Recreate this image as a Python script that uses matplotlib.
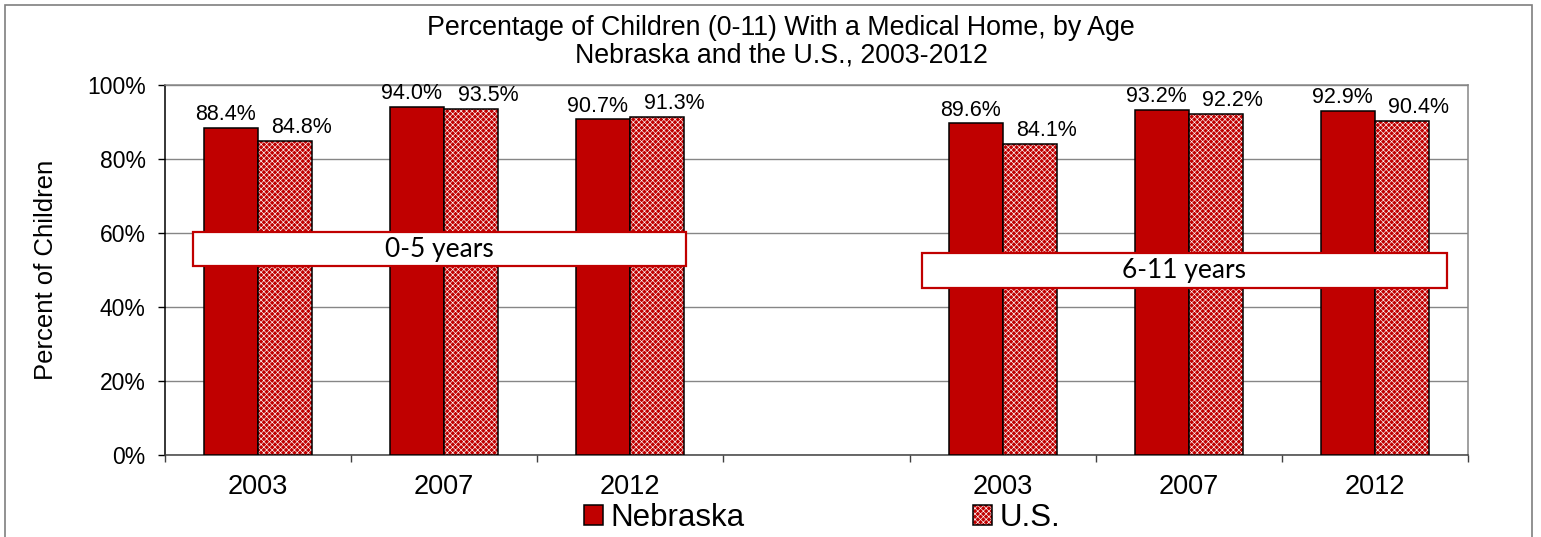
import numpy as np
import matplotlib
matplotlib.use('Agg')
import matplotlib.pyplot as plt
from matplotlib.patches import Patch, Rectangle

plt.rcParams['font.family'] = ['Liberation Sans', 'DejaVu Sans']
plt.rcParams['hatch.linewidth'] = 0.45

### data ###
years = ['2003', '2007', '2012', '', '2003', '2007', '2012']
nebraska = [88.4, 94.0, 90.7, np.nan, 89.6, 93.2, 92.9]
us = [84.8, 93.5, 91.3, np.nan, 84.1, 92.2, 90.4]
age_groups = ['0-5 years', '6-11 years']
yticks = [0, 20, 40, 60, 80, 100]

red = '#c00000'
grid_gray = '#868686'

fig = plt.figure(figsize=(15.41, 5.37), dpi=100)
ax = fig.add_axes([165/1541, 82/537, 1303/1541, 370/537])

x = np.arange(len(years))
w = 0.29

### bars ###
ax.bar(x - w/2, nebraska, w, color=red, edgecolor='black', linewidth=1.1, zorder=3)
ax.bar(x + w/2, us, w, color=red, edgecolor='white', hatch='xxxxxx', linewidth=0, zorder=3)
ax.bar(x + w/2, us, w, color='none', edgecolor='black', linewidth=1.1, zorder=4)

### value labels (excel nudges them apart a bit) ###
for i in range(len(years)):
    if np.isnan(nebraska[i]):
        continue
    ax.annotate('%.1f%%' % nebraska[i], (x[i] - w/2, nebraska[i]), xytext=(-4, 2),
                textcoords='offset points', ha='center', va='bottom', fontsize=15.5, zorder=6)
    ax.annotate('%.1f%%' % us[i], (x[i] + w/2, us[i]), xytext=(12, 2),
                textcoords='offset points', ha='center', va='bottom', fontsize=15.5, zorder=6)

### axes ###
ax.set_xlim(-0.5, len(years) - 0.5)
ax.set_ylim(0, 100)
ax.set_yticks(yticks)
ax.set_yticklabels(['%d%%' % t for t in yticks], fontsize=16.5)
ax.tick_params(axis='y', direction='out', length=5, width=1, pad=9, color='black')
ax.grid(axis='y', color=grid_gray, linewidth=1, zorder=0)

ax.set_xticks(np.arange(len(years) + 1) - 0.5)
ax.set_xticklabels([])
ax.set_xticks(x, minor=True)
ax.set_xticklabels(years, minor=True, fontsize=19.5)
ax.tick_params(axis='x', which='major', direction='out', length=5, width=1, color='#404040')
ax.tick_params(axis='x', which='minor', length=0, pad=14)

ax.spines['left'].set_color('black')
ax.spines['bottom'].set_color('#404040')
ax.spines['top'].set_color(grid_gray)
ax.spines['right'].set_color(grid_gray)
for s in ax.spines.values():
    s.set_linewidth(1.1)

ax.set_ylabel('Percent of Children', fontsize=18.5)
ax.yaxis.set_label_coords(-0.082, 0.5)

### age group boxes ###
boxes = [(193, 686, 232, 266), (922, 1447, 253, 288)]
for label, (x0, x1, y0, y1) in zip(age_groups, boxes):
    fx0, fx1 = x0/1541, x1/1541
    fy0, fy1 = 1 - y1/537, 1 - y0/537
    fig.patches.append(Rectangle((fx0, fy0), fx1 - fx0, fy1 - fy0, transform=fig.transFigure,
                                 facecolor='white', edgecolor=red, linewidth=1.6, zorder=10))
    fig.text((fx0 + fx1)/2, (fy0 + fy1)/2, label, ha='center', va='center',
             fontsize=19, family=['Lato', 'DejaVu Sans'], zorder=11)

### title ###
fig.text(781/1541, 1 - 35/537, 'Percentage of Children (0-11) With a Medical Home, by Age',
         ha='center', va='baseline', fontsize=19.3)
fig.text(781/1541, 1 - 63/537, 'Nebraska and the U.S., 2003-2012',
         ha='center', va='baseline', fontsize=19.3)

### legend ###
h_ne = Patch(facecolor=red, edgecolor='black', linewidth=1.1)
h_us = (Patch(facecolor=red, edgecolor='white', hatch='xxxxxx', linewidth=0),
        Patch(facecolor='none', edgecolor='black', linewidth=1.1))
fig.legend([h_ne, h_us], ['Nebraska', 'U.S.'], loc='center left',
           bbox_to_anchor=(584/1541, 1 - 518/537), ncol=2, frameon=False,
           fontsize=22.5, handlelength=0.6, handleheight=0.58, handletextpad=0.25,
           columnspacing=7.3, borderpad=0, borderaxespad=0)

### outer border ###
fig.patches.append(Rectangle((5/1541, -0.02), 1527/1541, 1.02 - 5/537, transform=fig.transFigure,
                             facecolor='none', edgecolor='#7f7f7f', linewidth=1.2))

fig.savefig('out.png', dpi=100)
